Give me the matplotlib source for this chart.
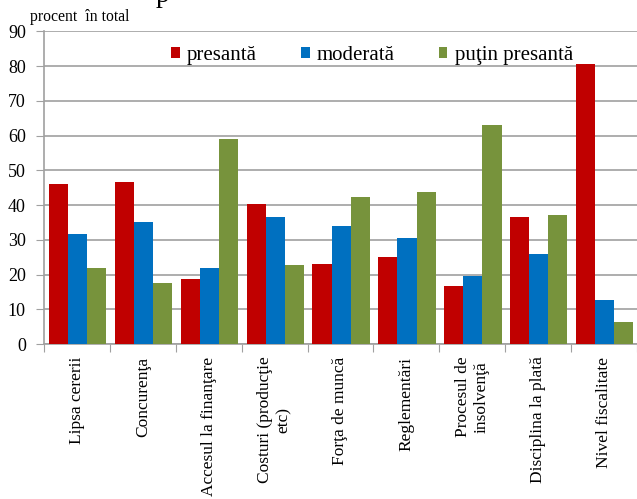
import numpy as np
import matplotlib
matplotlib.use("Agg")
import matplotlib.pyplot as plt

plt.rcParams["font.family"] = ["Liberation Serif", "DejaVu Serif"]

# date
categorii = ["Lipsa cererii", "Concurenţa", "Accesul la finanţare",
             "Costuri (producţie\netc)", "Forţa de muncă", "Reglementări",
             "Procesul de\ninsolvenţă", "Disciplina la plată", "Nivel fiscalitate"]
presanta = [46.1, 46.6, 18.6, 40.3, 23.0, 25.2, 16.8, 36.6, 80.6]
moderata = [31.6, 35.2, 21.8, 36.6, 34.0, 30.5, 19.7, 25.8, 12.7]
putin_presanta = [21.8, 17.7, 59.1, 22.7, 42.4, 43.7, 63.0, 37.2, 6.3]
serii = ["presantă", "moderată", "puţin presantă"]
culori = ["#C00000", "#0070C0", "#77933C"]

fig = plt.figure(figsize=(6.37, 4.99), dpi=100)
ax = fig.add_axes([0.069, 0.3106, 0.931, 0.6263])

x = np.arange(len(categorii))
w = 0.29
for i, (vals, nume, c) in enumerate(zip([presanta, moderata, putin_presanta], serii, culori)):
    ax.bar(x + (i - 1) * w + 0.01, vals, width=w, color=c, label=nume, zorder=3)

ax.set_xlim(-0.5, len(categorii) - 0.5)
ax.set_ylim(0, 90)
ax.set_yticks(range(0, 91, 10))
ax.yaxis.grid(True, color="#a0a0a0", linewidth=1.2, zorder=0)

# marcaje intre grupuri
ax.set_xticks(np.arange(len(categorii) + 1) - 0.5)
ax.set_xticklabels([])
ax.set_xticks(x, minor=True)
ax.set_xticklabels(categorii, minor=True, rotation=90, fontsize=12.5,
                   va="top", ha="center", multialignment="center")
ax.tick_params(axis="x", which="minor", length=0, pad=9)
ax.tick_params(axis="x", which="major", length=6, color="#a0a0a0")
ax.tick_params(axis="y", length=6, color="#a0a0a0", labelsize=13, pad=7)

for s in ["top", "right"]:
    ax.spines[s].set_visible(False)
for s in ["left", "bottom"]:
    ax.spines[s].set_color("#a0a0a0")
    ax.spines[s].set_linewidth(1.2)

fig.text(0.047, 0.966, "procent  în total", fontsize=11.3, va="center")
# titlul taiat din original: doar coada literei se vede
fig.text(0.245, 0.996, "p", fontsize=20, va="baseline")

ax.legend(loc="upper center", bbox_to_anchor=(0.553, 1.015), ncol=3, frameon=False,
          fontsize=15, handlelength=0.42, handleheight=0.42, handletextpad=0.35,
          columnspacing=2.1)

fig.savefig("out.png", dpi=100)
